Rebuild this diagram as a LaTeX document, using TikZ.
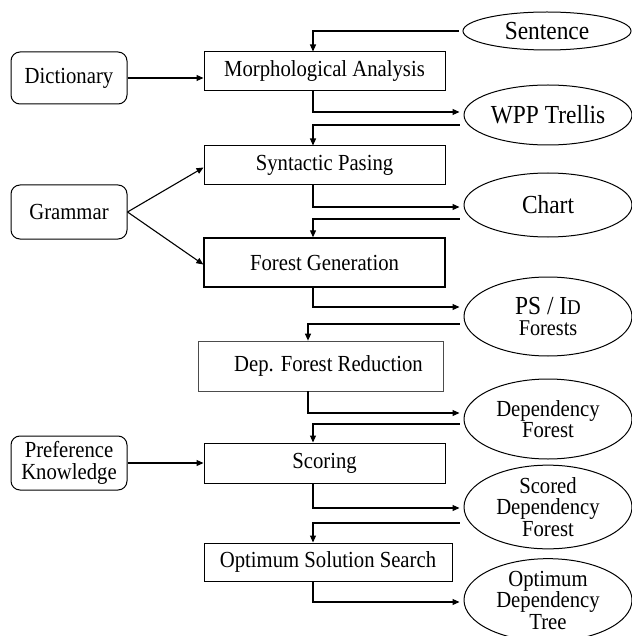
\documentclass[tikz,border=0pt]{standalone}
\usepackage{fontspec}
\setmainfont[FakeStretch=0.9]{Liberation Serif}
\usetikzlibrary{shapes.geometric,arrows.meta,calc}
\newcommand{\bigtxt}{\fontsize{26}{26}\selectfont}
\begin{document}
\begin{tikzpicture}[x=1pt,y=-1pt,
  every node/.style={font=\fontsize{23}{21.5}\selectfont, inner sep=0pt, align=center},
  procbox/.style={draw, line width=1pt, minimum width=241pt},
  srcbox/.style={draw, line width=1pt, rounded corners=9pt, minimum width=116pt},
  data/.style={draw, ellipse, line width=1pt, minimum width=168pt},
  arr/.style={line width=1.1pt, -{Triangle[length=7pt,width=6pt]}}]
\useasboundingbox (0,0) rectangle (631,636);

% processing steps
\node[procbox, minimum height=39pt] (morph) at (324.5,71.5) {Morphological Analysis};
\node[procbox, minimum height=39pt] (synt) at (324.5,165.5) {Syntactic Pasing};
\node[procbox, minimum height=49pt, line width=1.4pt] (forest) at (324.5,262.5) {Forest Generation};
\node[procbox, minimum height=50pt, minimum width=245pt, line width=0.7pt, draw=black!70] (dep) at (320.5,366) {\hspace*{16pt}Dep. Forest Reduction};
\node[procbox, minimum height=40pt] (score) at (324.5,463) {Scoring};
\node[procbox, minimum height=38pt, minimum width=248pt] (oss) at (328,562) {Optimum Solution Search};

% knowledge sources
\node[srcbox, minimum height=52pt] (dict) at (69,78) {Dictionary};
\node[srcbox, minimum height=54pt] (gram) at (69,212) {Grammar};
\node[srcbox, minimum height=54pt] (pref) at (69,463) {\fontsize{23}{25}\selectfont Preference\\Knowledge};

% intermediate data
\node[data, minimum height=38pt] (sent) at (547,31) {\bigtxt Sentence};
\node[data, minimum height=60pt] (wpp) at (548,115) {\bigtxt WPP Trellis};
\node[data, minimum height=64pt] (chart) at (548,205) {\bigtxt Chart};
\node[data, minimum height=79pt] (psid) at (548,316.5) {\fontsize{26}{23}\selectfont PS / I{\fontsize{21}{21}\selectfont D}\\{\fontsize{22.5}{23}\selectfont Forests}};
\node[data, minimum height=80pt] (depf) at (548,419) {Dependency\\Forest};
\node[data, minimum height=78pt] (scored) at (548,507) {Scored\\Dependency\\Forest};
\node[data, minimum height=72pt] (optim) at (548,600) {\fontsize{23}{21}\selectfont Optimum\\Dependency\\Tree};

% vertical trunk lines
\coordinate (vl) at (313,0);
\coordinate (vd) at (308,0);

% flow
\draw[arr] ([xshift=-4pt]sent.west) -| (morph.north -| vl);
\draw[arr] (dict.east) -- (morph.west |- dict.east);
\draw[arr] (morph.south -| vl) |- ([xshift=-4pt,yshift=3pt]wpp.west);
\draw[arr] ([xshift=-4pt,yshift=-10pt]wpp.west) -| (synt.north -| vl);
\draw[arr] (gram.east) -- ([yshift=-2pt]synt.west);
\draw[arr] (gram.east) -- ([yshift=-2pt]forest.west);
\draw[arr] (synt.south -| vl) |- ([xshift=-4pt,yshift=-2pt]chart.west);
\draw[arr] ([xshift=-4pt,yshift=-14pt]chart.west) -| (forest.north -| vl);
\draw[arr] (forest.south -| vl) |- ([xshift=-4pt,yshift=9.5pt]psid.west);
\draw[arr] ([xshift=-4pt,yshift=-7.5pt]psid.west) -| (dep.north -| vd);
\draw[arr] (dep.south -| vd) |- ([xshift=-4pt,yshift=6pt]depf.west);
\draw[arr] ([xshift=-4pt,yshift=-5pt]depf.west) -| (score.north -| vl);
\draw[arr] (pref.east) -- (score.west |- pref.east);
\draw[arr] (score.south -| vl) |- ([xshift=-4pt,yshift=-1pt]scored.west);
\draw[arr] ([xshift=-4pt,yshift=-16pt]scored.west) -| (oss.north -| vl);
\draw[arr] (oss.south -| vl) |- ([xshift=-4pt,yshift=-2pt]optim.west);
\end{tikzpicture}
\end{document}
